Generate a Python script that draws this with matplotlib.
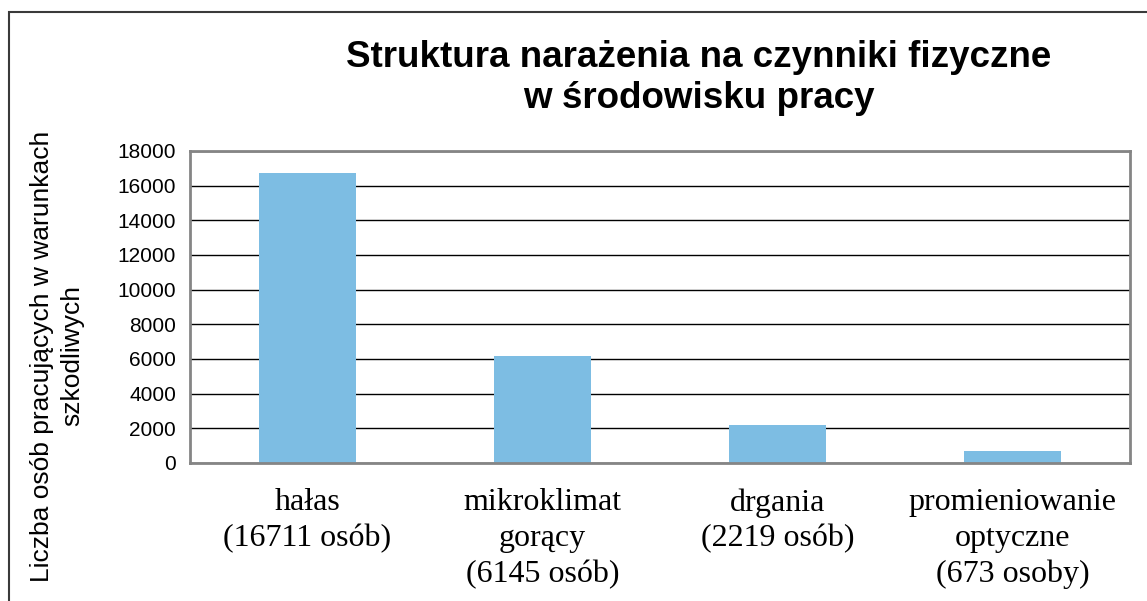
import matplotlib.pyplot as plt
from matplotlib.patches import Rectangle

categories = ["hałas\n(16711 osób)", "mikroklimat\ngorący\n(6145 osób)",
              "drgania\n(2219 osób)", "promieniowanie\noptyczne\n(673 osoby)"]
values = [16711, 6145, 2219, 673]
yticks = [0, 2000, 4000, 6000, 8000, 10000, 12000, 14000, 16000, 18000]

W, H = 1147, 601
fig = plt.figure(figsize=(W / 100, H / 100), dpi=100)
ax = fig.add_axes([190 / W, 1 - 463 / H, 940 / W, 312 / H])

x = range(len(values))
ax.bar(x, values, width=0.41, color="#7dbde3", zorder=2)
ax.set_xlim(-0.5, len(values) - 0.5)
ax.set_ylim(0, 18000)
ax.set_yticks(yticks)
ax.set_xticks(list(x))
ax.set_xticklabels(categories, family="Liberation Serif", fontsize=23, linespacing=1.31)
for t in ax.get_yticklabels():
    t.set_family("Liberation Sans")
    t.set_fontsize(15)
ax.tick_params(axis="both", length=0)
ax.tick_params(axis="x", pad=18)
ax.tick_params(axis="y", pad=10)
ax.yaxis.grid(True, color="black", linewidth=1.0, zorder=1)
for s in ax.spines.values():
    s.set_color("#858585")
    s.set_linewidth(2)

# y label
fig.text(57 / W, 1 - 356 / H, "Liczba osób pracujących w warunkach\nszkodliwych",
         rotation=90, ha="center", va="center", family="Liberation Sans",
         fontsize=19, linespacing=1.35)

# title
fig.text(699 / W, 1 - 78 / H, "Struktura narażenia na czynniki fizyczne\nw środowisku pracy",
         ha="center", va="center", family="Liberation Sans", weight="bold",
         fontsize=26.5, linespacing=1.22)

# outer frame
fig.patches.append(Rectangle((9 / W, -0.1), 1.2, 1 - 12 / H + 0.1, transform=fig.transFigure,
                             fill=False, edgecolor="#3a3a3a", linewidth=1.5))

fig.savefig("out.png", dpi=100)
